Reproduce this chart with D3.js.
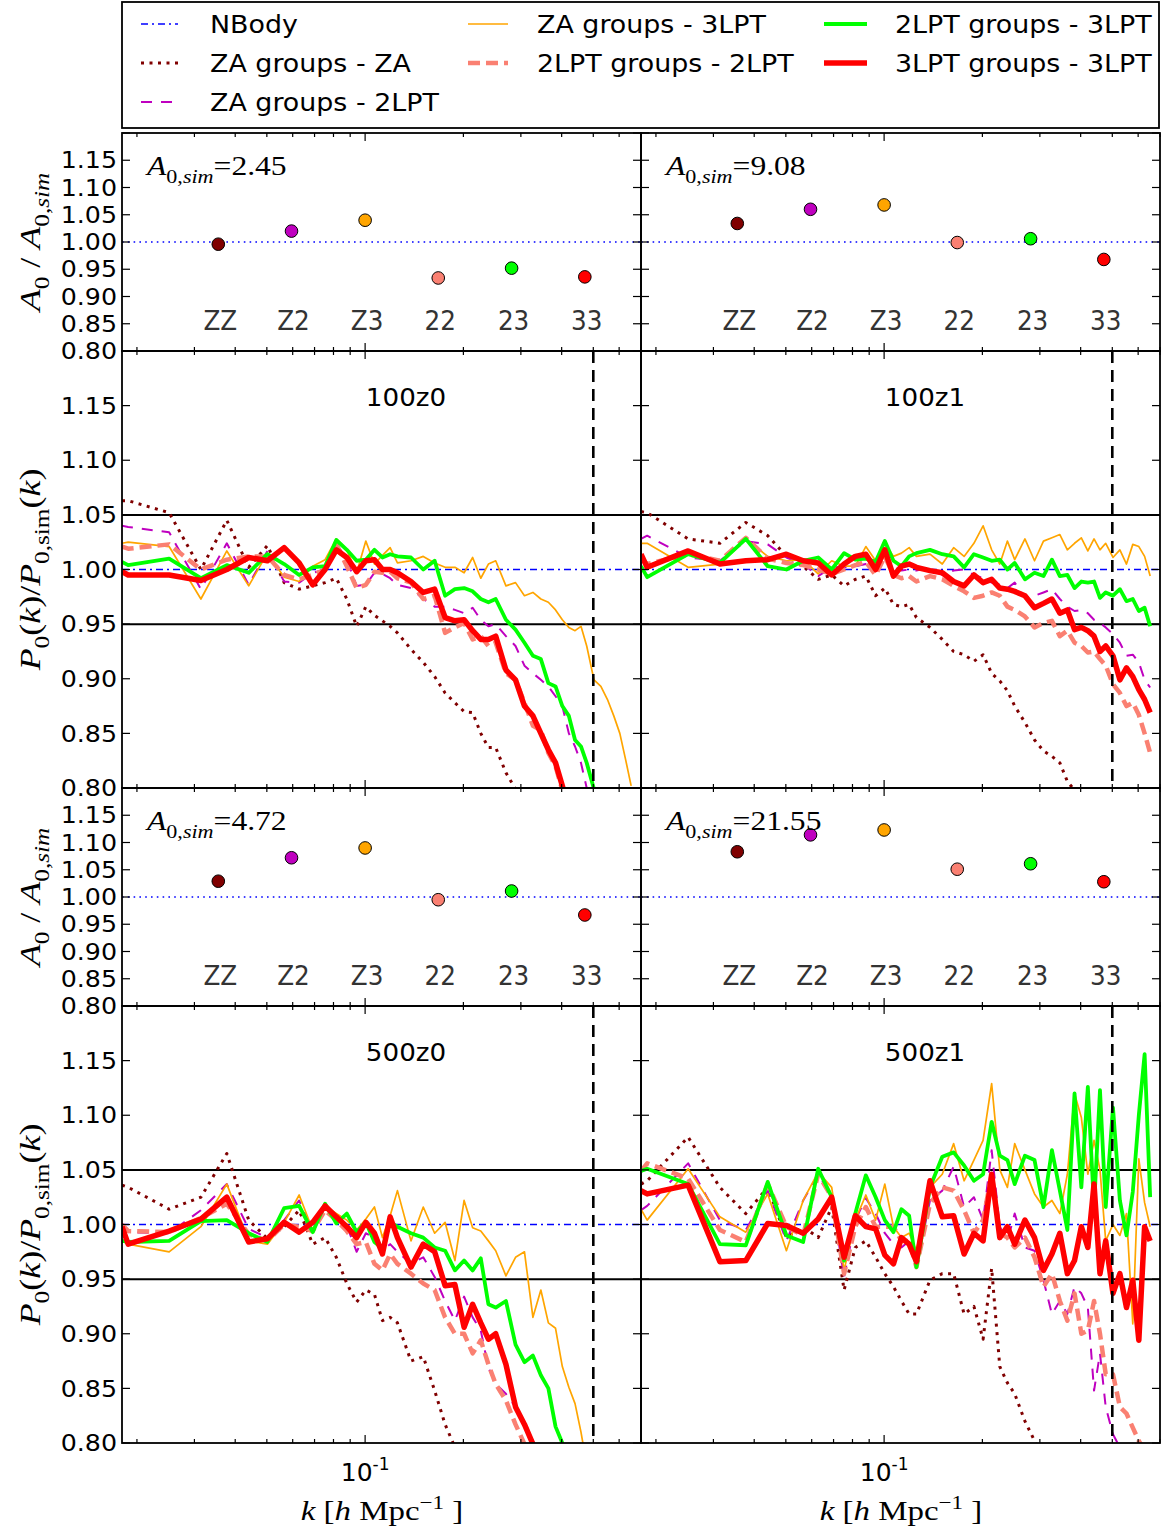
<!DOCTYPE html>
<html><head><meta charset="utf-8">
<script src="https://cdn.jsdelivr.net/npm/d3@7"></script>
<style>body{margin:0;background:#fff} svg{display:block}</style>
</head><body><svg id="c" width="1164" height="1532"></svg>
<script>
// ---------------- DATA ----------------
const kGrid = [0.018, 0.0188, 0.0251, 0.0314, 0.0377, 0.0440, 0.0502, 0.0565, 0.0628, 0.0691, 0.0754, 0.0816, 0.0879, 0.0942, 0.1005, 0.1068, 0.1130, 0.1193, 0.1256,
  0.1382, 0.1507, 0.1633, 0.1758, 0.1884, 0.2010, 0.2135, 0.2261, 0.2386, 0.2512,
  0.2700, 0.2889, 0.3077, 0.3266, 0.3454, 0.3642, 0.3831, 0.4019, 0.4208, 0.4396, 0.4584,
  0.4773,
  0.5024, 0.5275, 0.5526, 0.5778, 0.6029, 0.6280, 0.6531];

const nbodyK = [0.018, 0.7];
const nbodyRatio = [1.0, 1.0];
const kCut = 0.5;

// 100z0
const zaza_100z0 = [1.063,1.063,1.052,1.000,1.045,1.002,1.022,0.988,0.982,0.985,0.988,0.992,0.973,0.948,0.966,0.958,0.953,0.948,0.942,
  0.927,0.915,0.902,0.887,0.878,0.870,0.869,0.850,0.837,0.837,
  0.814,0.799,0.78,null,null,null,null,null,null,null,null, null, null,null,null,null,null,null,null];
const za2_100z0 = [1.040,1.039,1.034,0.982,1.024,0.986,1.017,0.989,0.988,0.997,1.000,1.024,1.009,0.985,0.986,0.997,0.996,0.992,0.986,
  0.983,0.973,0.966,0.966,0.963,0.960,0.965,0.954,0.948,0.950,
  0.939,0.930,0.912,0.905,0.899,0.893,0.884,0.875,0.850,0.838,0.823, 0.800, 0.78,null,null,null,null,null,null];
const za3_100z0 = [1.024,1.025,1.021,0.973,1.017,0.985,1.015,0.993,0.989,1.003,1.009,1.028,1.018,0.997,1.026,1.005,1.013,1.020,1.006,
  1.008,1.012,1.006,1.002,1.002,0.997,1.011,0.992,1.005,1.008,
  0.985,0.988,0.976,0.979,0.973,0.970,0.963,0.954,0.947,0.944,0.948, 0.930, 0.899,0.893,0.881,0.866,0.850,0.826,0.802];
const l22_100z0 = [1.021,1.019,1.023,1.000,1.009,1.012,1.012,0.995,0.991,0.995,1.000,1.023,1.003,0.983,0.986,0.998,0.997,0.998,0.992,
  0.988,0.973,0.976,0.942,0.947,0.951,0.936,0.939,0.930,0.933,
  0.905,0.899,0.878,0.857,0.853,0.832,0.820,0.798,null,null,null, null, null,null,null,null,null,null,null];
const l23_100z0 = [1.007,1.004,1.010,0.992,1.004,0.997,1.014,1.005,0.995,1.002,1.003,1.027,1.018,1.008,1.009,1.018,1.011,1.014,1.012,
  1.011,1.000,1.008,0.976,0.982,0.983,0.980,0.973,0.970,0.973,
  0.954,0.945,0.933,0.921,0.918,0.896,0.893,0.875,0.866,0.844,0.838, 0.823, 0.799,0.78,null,null,null,null,null];
const l33_100z0 = [0.998,0.995,0.995,0.990,1.000,1.011,1.008,1.020,1.006,0.986,1.000,1.018,1.011,0.998,1.008,1.009,1.000,1.000,0.997,
  0.989,0.979,0.982,0.956,0.953,0.954,0.944,0.936,0.936,0.939,
  0.908,0.899,0.875,0.866,0.850,0.835,0.823,0.802,0.78,null,null, null, null,null,null,null,null,null,null];

// 100z1
const zaza_100z1 = [1.053,1.052,1.028,1.024,1.043,1.031,1.012,1.003,0.991,0.995,0.985,0.991,0.994,0.976,0.983,0.968,0.966,0.968,0.956,
  0.947,0.936,0.925,0.922,0.916,0.922,0.905,0.898,0.889,0.875,
  0.860,0.844,0.834,0.829,0.823,0.806,0.798,null,null,null,null, null, null,null,null,null,null,null,null];
const za2_100z1 = [1.028,1.031,1.011,1.008,1.026,1.023,1.011,1.005,0.994,1.002,1.002,1.003,1.005,1.000,1.015,1.002,0.999,1.000,0.999,
  1.002,0.995,0.999,1.000,0.995,0.992,0.988,0.986,0.983,0.988,
  0.974,0.976,0.979,0.982,0.973,0.966,0.962,0.963,0.960,0.954,0.951, 0.947, 0.941,0.933,0.921,0.922,0.915,0.899,0.892];
const za3_100z1 = [1.024,1.024,1.002,1.005,1.028,1.012,1.008,1.009,0.996,1.008,1.003,1.003,1.021,1.008,1.024,1.012,1.015,1.020,1.012,
  1.014,1.005,1.020,1.012,1.024,1.040,1.018,1.005,1.026,1.009,
  1.028,1.008,1.026,1.029,1.032,1.018,1.024,1.029,1.017,1.028,1.018, 1.024, 1.011,1.018,1.005,1.023,1.021,1.012,0.994];
const l22_100z1 = [1.010,1.005,1.014,1.008,1.029,1.010,1.006,1.004,1.000,0.996,1.000,1.004,1.007,0.995,1.012,0.995,0.992,0.994,0.989,
  0.994,0.991,0.985,0.980,0.974,0.976,0.979,0.976,0.966,0.963,
  0.957,0.947,0.951,0.953,0.939,0.944,0.933,0.930,0.924,0.925,0.918, 0.912, 0.895,0.887,0.875,0.878,0.867,0.850,0.832];
const l23_100z1 = [1.003,0.993,1.014,1.006,1.028,1.003,1.000,1.008,1.011,1.000,1.015,1.009,1.010,1.007,1.026,1.008,1.003,1.012,1.015,
  1.018,1.014,1.012,1.002,1.014,1.011,1.008,1.009,1.000,1.006,
  0.991,0.997,0.994,1.009,0.994,0.995,0.983,0.989,0.988,0.989,0.974, 0.979, 0.976,0.982,0.971,0.973,0.962,0.965,0.948];
const l33_100z1 = [1.014,1.002,1.017,1.005,1.008,1.009,1.014,1.008,1.006,0.995,1.005,1.012,1.014,1.000,1.018,0.994,1.003,1.005,1.002,
  0.999,0.997,0.989,0.985,0.995,0.988,0.991,0.983,0.982,0.980,
  0.976,0.965,0.969,0.973,0.960,0.963,0.945,0.947,0.944,0.939,0.925, 0.930, 0.921,0.899,0.910,0.902,0.890,0.881,0.869];

// 500z0
const zaza_500z0 = [1.036,1.034,1.014,1.025,1.065,1.004,0.987,0.998,1.013,0.982,0.988,0.970,0.946,0.929,0.940,0.936,0.912,0.915,0.910,
  0.875,0.879,0.848,0.817,0.796,null,null,null,null,null,
  null,null,null,null,null,null,null,null,null,null,null, null, null,null,null,null,null,null,null];
const za2_500z0 = [1.001,0.993,0.992,1.013,1.037,0.996,0.988,1.004,1.022,0.993,1.016,1.004,0.999,0.975,0.992,0.988,0.976,0.982,0.975,
  0.964,0.970,0.952,0.930,0.912,0.934,0.915,0.903,0.869,0.854,
  0.845,0.833,0.818,0.802,0.78,null,null,null,null,null,null, null, null,null,null,null,null,null,null];
const za3_500z0 = [0.985,0.982,0.975,0.998,1.037,0.985,0.982,1.002,1.027,0.995,1.017,1.010,1.004,0.995,1.005,1.016,0.988,1.008,1.031,
  0.985,1.016,0.992,1.002,0.967,1.022,0.997,0.994,0.985,0.976,
  0.953,0.970,0.975,0.915,0.940,0.910,0.905,0.870,0.851,0.836,0.810, 0.78, null,null,null,null,null,null,null];
const l22_500z0 = [1.000,0.994,0.993,1.006,1.019,0.991,0.985,1.000,0.998,0.994,1.013,1.004,0.994,0.982,0.984,0.964,0.958,0.973,0.964,
  0.955,0.946,0.940,0.915,0.900,0.900,0.882,0.894,0.872,0.854,
  0.839,0.817,0.799,null,null,null,null,null,null,null,null, null, null,null,null,null,null,null,null];
const l23_500z0 = [0.985,0.984,0.985,1.003,1.004,0.992,0.984,1.015,1.017,0.993,1.019,1.001,1.010,0.993,1.002,0.984,0.978,1.002,0.998,
  0.992,0.988,0.979,0.976,0.958,0.967,0.958,0.969,0.927,0.924,
  0.930,0.890,0.874,0.880,0.862,0.850,0.815,0.800,0.78,null,null, null, null,null,null,null,null,null,null];
const l33_500z0 = [0.998,0.982,0.994,1.005,1.025,0.984,0.987,1.002,0.993,1.002,1.017,1.007,0.998,0.988,1.002,0.992,0.973,1.007,0.988,
  0.961,0.982,0.975,0.944,0.945,0.906,0.927,0.910,0.895,0.900,
  0.872,0.833,0.817,0.799,0.78,null,null,null,null,null,null, null, null,null,null,null,null,null,null];

// 500z1
const zaza_500z1 = [1.037,1.040,1.080,1.034,1.010,1.034,0.988,0.998,0.988,1.016,0.940,0.979,0.985,0.970,0.955,0.943,0.930,0.918,0.918,
  0.949,0.955,0.955,0.918,0.925,0.895,0.960,0.870,0.855,0.845,
  0.820,0.802,0.78,null,null,null,null,null,null,null,null, null, null,null,null,null,null,null,null];
const za2_500z1 = [1.013,1.017,1.056,1.004,0.995,1.031,0.985,1.022,1.046,1.025,0.952,1.004,1.024,1.010,0.992,0.982,0.979,0.985,0.961,
  1.022,1.031,1.053,1.016,1.025,1.004,1.068,0.998,0.985,1.010,
  0.979,0.976,0.949,0.918,0.930,0.918,0.943,0.937,0.924,0.848,0.882, 0.833, 0.808,0.796,null,null,null,null,null];
const za3_500z1 = [1.014,1.004,1.051,1.007,0.993,1.028,0.976,1.022,1.048,1.034,0.958,1.004,1.027,1.004,1.037,0.998,0.988,0.992,0.976,
  1.034,1.046,1.074,1.040,1.059,1.077,1.129,1.050,1.034,1.074,
  1.050,1.028,1.016,1.022,1.010,1.046,1.120,1.098,1.046,1.077,1.050, 0.985, 1.000,0.990,1.010,0.909,1.060,1.020,0.998];
const l22_500z1 = [1.049,1.056,1.042,0.995,0.984,1.037,0.998,0.990,1.046,1.025,0.955,0.998,1.016,0.998,0.998,0.998,0.985,0.985,0.961,
  1.019,1.034,1.031,1.013,0.992,1.004,1.046,0.992,0.988,0.979,
  0.988,0.970,0.943,0.955,0.930,0.912,0.937,0.900,0.903,0.930,0.900, 0.863, 0.863,0.833,0.827,0.814,0.802,0.793,null];
const l23_500z1 = [1.049,1.051,1.037,0.982,0.981,1.039,0.990,0.984,1.051,1.025,0.967,1.010,1.045,1.025,1.004,0.993,1.014,1.008,0.961,
  1.034,1.062,1.066,1.054,1.040,1.046,1.094,1.063,1.059,1.037,
  1.063,1.059,1.016,1.068,1.031,0.995,1.120,1.034,1.126,1.016,1.123, 1.016, 1.107,1.022,0.990,1.030,1.100,1.156,1.025];
const l33_500z1 = [1.031,1.028,1.036,0.966,0.967,1.001,0.999,0.992,1.005,1.025,0.970,1.008,0.998,0.996,0.972,0.964,0.988,0.982,0.966,
  1.040,1.007,1.008,0.973,0.992,0.985,1.046,0.988,0.998,0.982,
  1.004,0.988,0.958,0.973,0.992,0.955,0.967,0.998,0.979,1.037,0.955, 0.985, 0.937,0.955,0.924,0.949,0.894,0.998,0.985];

// A0 ratio panels
const catLabels = ['ZZ','Z2','Z3','22','23','33'];
const catK = [0.0355, 0.0595, 0.1, 0.1675, 0.281, 0.471];
const a0_100z0 = [0.996, 1.020, 1.040, 0.934, 0.952, 0.936];
const a0_100z1 = [1.034, 1.060, 1.068, 0.999, 1.006, 0.968];
const a0_500z0 = [1.029, 1.072, 1.090, 0.995, 1.011, 0.967];
const a0_500z1 = [1.083, 1.114, 1.123, 1.051, 1.061, 1.028];
const a0sim = ['2.45', '9.08', '4.72', '21.55'];
const panelNames = ['100z0', '100z1', '500z0', '500z1'];

const yTicks = [0.80, 0.85, 0.90, 0.95, 1.00, 1.05, 1.10, 1.15, 1.20];
const yTickLabels = ['0.80','0.85','0.90','0.95','1.00','1.05','1.10','1.15',''];
const xMajor = [0.1];
const xMinor = [0.02,0.03,0.04,0.05,0.06,0.07,0.08,0.09,0.2,0.3,0.4,0.5,0.6,0.7];

const legendLabels = ['NBody','ZA groups - ZA','ZA groups - 2LPT','ZA groups - 3LPT','2LPT groups - 2LPT','2LPT groups - 3LPT','3LPT groups - 3LPT'];

// ---------------- STYLES ----------------
const styles = {
  nbody: {color:'#0000ff', width:1.6, dash:'7,4,2,4'},
  zaza:  {color:'#800000', width:3,   dash:'3,5.5'},
  za2:   {color:'#bf00bf', width:2,   dash:'11,9'},
  za3:   {color:'#ffa500', width:1.7, dash:null},
  l22:   {color:'#fa8072', width:4.5, dash:'12,6'},
  l23:   {color:'#00ff00', width:3.8, dash:null},
  l33:   {color:'#ff0000', width:5.5, dash:null}
};
const seriesOrder = ['zaza','za2','za3','l22','l23','l33'];
const legendOrder = ['nbody','zaza','za2','za3','l22','l23','l33'];
const catColors = ['#800000','#bf00bf','#ffa500','#fa8072','#00ff00','#ff0000'];

const panelSeries = {
  '100z0': {zaza:zaza_100z0, za2:za2_100z0, za3:za3_100z0, l22:l22_100z0, l23:l23_100z0, l33:l33_100z0},
  '100z1': {zaza:zaza_100z1, za2:za2_100z1, za3:za3_100z1, l22:l22_100z1, l23:l23_100z1, l33:l33_100z1},
  '500z0': {zaza:zaza_500z0, za2:za2_500z0, za3:za3_500z0, l22:l22_500z0, l23:l23_500z0, l33:l33_500z0},
  '500z1': {zaza:zaza_500z1, za2:za2_500z1, za3:za3_500z1, l22:l22_500z1, l23:l23_500z1, l33:l33_500z1}
};
const panelA0 = {'100z0':a0_100z0, '100z1':a0_100z1, '500z0':a0_500z0, '500z1':a0_500z1};

for (const p of panelNames) for (const s of seriesOrder) {
  if (panelSeries[p][s].length !== kGrid.length) throw new Error('length mismatch ' + p + ' ' + s + ' ' + panelSeries[p][s].length);
}

// ---------------- LAYOUT ----------------
const svg = d3.select('#c');
const colX = [122, 641];
const PW = 519;
const rowTop = [133, 788];
const A0H = 218, PH = 437;
const SANS = 'DejaVu Sans', SERIF = 'Liberation Serif';

function mkText(parent, x, y, size, opts = {}) {
  const sx = opts.sx || 1, sy = opts.sy || 1;
  let tr = `translate(${x},${y}) scale(${sx},${sy})`;
  if (opts.rot) tr += ` rotate(${opts.rot})`;
  return parent.append('text')
    .attr('transform', tr)
    .attr('font-family', opts.family || SANS)
    .attr('font-size', size)
    .attr('text-anchor', opts.anchor || 'start')
    .attr('fill', opts.fill || '#000')
    .text(opts.text || null);
}
function mathText(parent, x, y, size, parts, opts = {}) {
  const t = mkText(parent, x, y, size, Object.assign({family: SERIF}, opts));
  let shift = 0;
  for (const p of parts) {
    let target = p.sub ? size * 0.3 : (p.sup ? -size * 0.4 : 0);
    const ts = t.append('tspan').text(p.t)
      .attr('font-size', (p.sub || p.sup) ? size * 0.7 : size)
      .attr('font-style', p.i ? 'italic' : 'normal');
    if (target !== shift) { ts.attr('dy', target - shift); shift = target; }
  }
  return t;
}

const xScales = colX.map(x0 => d3.scaleLog().domain([0.018, 0.7]).range([x0, x0 + PW]));

function drawFrame(g, col, top, h, yScale, showYLabels, showXLabels) {
  const x = colX[col];
  const xs = xScales[col];
  const fr = g.append('g');
  yTicks.forEach((v, i) => {
    const yy = yScale(v);
    fr.append('line').attr('x1', x).attr('x2', x + 8).attr('y1', yy).attr('y2', yy).attr('stroke', '#000').attr('stroke-width', 1.2);
    fr.append('line').attr('x1', x + PW - 8).attr('x2', x + PW).attr('y1', yy).attr('y2', yy).attr('stroke', '#000').attr('stroke-width', 1.2);
    if (showYLabels && yTickLabels[i]) {
      mkText(fr, 117, yy + 8.2, 23, {anchor:'end', sx: 1.1, text: yTickLabels[i]});
    }
  });
  const bot = top + h;
  xMajor.concat(xMinor).forEach(k => {
    const len = xMajor.includes(k) ? 8 : 4;
    const xx = xs(k);
    fr.append('line').attr('x1', xx).attr('x2', xx).attr('y1', bot).attr('y2', bot - len).attr('stroke', '#000').attr('stroke-width', 1.2);
    fr.append('line').attr('x1', xx).attr('x2', xx).attr('y1', top).attr('y2', top + len).attr('stroke', '#000').attr('stroke-width', 1.2);
  });
  if (showXLabels) {
    xMajor.forEach(k => {
      const t = mkText(fr, xs(k), bot + 38, 25, {anchor:'middle'});
      t.append('tspan').text('10');
      t.append('tspan').text('-1').attr('font-size', 17).attr('dy', -11);
    });
  }
  fr.append('rect').attr('x', x).attr('y', top).attr('width', PW).attr('height', h)
    .attr('fill', 'none').attr('stroke', '#000').attr('stroke-width', 1.8);
}

let clipId = 0;
panelNames.forEach((name, pi) => {
  const col = pi % 2, row = Math.floor(pi / 2);
  const x0 = colX[col];
  const xs = xScales[col];
  const a0Top = rowTop[row], pTop = rowTop[row] + A0H;
  const yA = d3.scaleLinear().domain([0.8, 1.2]).range([a0Top + A0H, a0Top]);
  const yP = d3.scaleLinear().domain([0.8, 1.2]).range([pTop + PH, pTop]);

  // ---- A0 panel ----
  const gA = svg.append('g');
  const cidA = 'clip' + (clipId++);
  svg.append('clipPath').attr('id', cidA).append('rect').attr('x', x0).attr('y', a0Top).attr('width', PW).attr('height', A0H);
  const gAc = gA.append('g').attr('clip-path', `url(#${cidA})`);
  gAc.append('path').datum(nbodyK.map((k, i) => [k, nbodyRatio[i]]))
    .attr('d', d3.line().x(d => xs(d[0])).y(d => yA(d[1])))
    .attr('fill', 'none').attr('stroke', '#0000ff').attr('stroke-width', 1.6).attr('stroke-dasharray', '1.6,4.2');
  catLabels.forEach((lab, i) => {
    mkText(gA, xs(catK[i]) + 2, a0Top + A0H - 21, 26, {anchor:'middle', sx: 0.95, fill:'#333', text: lab});
  });
  gAc.selectAll('circle.m').data(panelA0[name]).enter().append('circle')
    .attr('cx', (d, i) => xs(catK[i])).attr('cy', d => yA(d)).attr('r', 6.3)
    .attr('fill', (d, i) => catColors[i]).attr('stroke', '#000').attr('stroke-width', 1);
  mathText(gA, x0 + 25, a0Top + 42, 27, [
    {t:'A', i:1}, {t:'0,', sub:1}, {t:'sim', sub:1, i:1}, {t:'=' + a0sim[pi]}
  ], {sx: 1.17});
  drawFrame(gA, col, a0Top, A0H, yA, col === 0, false);

  // ---- P panel ----
  const gP = svg.append('g');
  const cidP = 'clip' + (clipId++);
  svg.append('clipPath').attr('id', cidP).append('rect').attr('x', x0).attr('y', pTop).attr('width', PW).attr('height', PH);
  const gPc = gP.append('g').attr('clip-path', `url(#${cidP})`);
  [0.95, 1.05].forEach(v => {
    gPc.append('line').attr('x1', x0).attr('x2', x0 + PW).attr('y1', yP(v)).attr('y2', yP(v))
      .attr('stroke', '#000').attr('stroke-width', 2);
  });
  const line = d3.line().defined(d => d[1] !== null).x(d => xs(d[0])).y(d => yP(d[1]));
  gPc.append('path').datum(nbodyK.map((k, i) => [k, nbodyRatio[i]])).attr('d', line)
    .attr('fill', 'none').attr('stroke', styles.nbody.color).attr('stroke-width', styles.nbody.width)
    .attr('stroke-dasharray', styles.nbody.dash);
  seriesOrder.forEach(s => {
    const st = styles[s];
    const vals = panelSeries[name][s];
    gPc.append('path').datum(kGrid.map((k, i) => [k, vals[i]])).attr('d', line)
      .attr('fill', 'none').attr('stroke', st.color).attr('stroke-width', st.width)
      .attr('stroke-linejoin', 'round')
      .attr('stroke-dasharray', st.dash);
  });
  gPc.append('line').attr('x1', xs(kCut)).attr('x2', xs(kCut)).attr('y1', pTop).attr('y2', pTop + PH)
    .attr('stroke', '#000').attr('stroke-width', 2.6).attr('stroke-dasharray', '12,7');
  mkText(gP, x0 + 284, pTop + 55, 24, {anchor:'middle', sx: 1.09, text: name});
  drawFrame(gP, col, pTop, PH, yP, col === 0, row === 1);

  // axis labels
  if (col === 0) {
    mathText(svg, 40, a0Top + A0H / 2, 30, [
      {t:'A', i:1}, {t:'0', sub:1}, {t:' / '}, {t:'A', i:1}, {t:'0,', sub:1}, {t:'sim', sub:1, i:1}
    ], {rot:-90, anchor:'middle', sy: 1.2});
    mathText(svg, 40, pTop + PH / 2, 30, [
      {t:'P', i:1}, {t:'0', sub:1}, {t:'('}, {t:'k', i:1}, {t:')/'}, {t:'P', i:1}, {t:'0,sim', sub:1}, {t:'('}, {t:'k', i:1}, {t:')'}
    ], {rot:-90, anchor:'middle', sy: 1.2});
  }
  if (row === 1) {
    mathText(svg, x0 + 260, 1520, 27, [
      {t:'k', i:1}, {t:' ['}, {t:'h', i:1}, {t:' Mpc'}, {t:'\u22121', sup:1}, {t:' ]'}
    ], {anchor:'middle', sx: 1.22});
  }
});

// ---------------- LEGEND ----------------
const lg = svg.append('g');
lg.append('rect').attr('x', 122).attr('y', 2).attr('width', 1037).attr('height', 126)
  .attr('fill', '#fff').attr('stroke', '#000').attr('stroke-width', 1.8);
const legCols = [{sx0:141, sx1:178, tx:210}, {sx0:468, sx1:508, tx:537}, {sx0:824, sx1:867, tx:895}];
const legRows = [24, 63, 102];
const legPos = [[0,0],[0,1],[0,2],[1,0],[1,1],[2,0],[2,1]];
legendOrder.forEach((s, i) => {
  const [c, r] = legPos[i];
  const st = styles[s];
  const y = legRows[r];
  lg.append('line').attr('x1', legCols[c].sx0).attr('x2', legCols[c].sx1).attr('y1', y).attr('y2', y)
    .attr('stroke', st.color).attr('stroke-width', st.width).attr('stroke-dasharray', st.dash);
  mkText(lg, legCols[c].tx, y + 8.5, 24, {sx: 1.12, text: legendLabels[i]});
});
</script></body></html>
